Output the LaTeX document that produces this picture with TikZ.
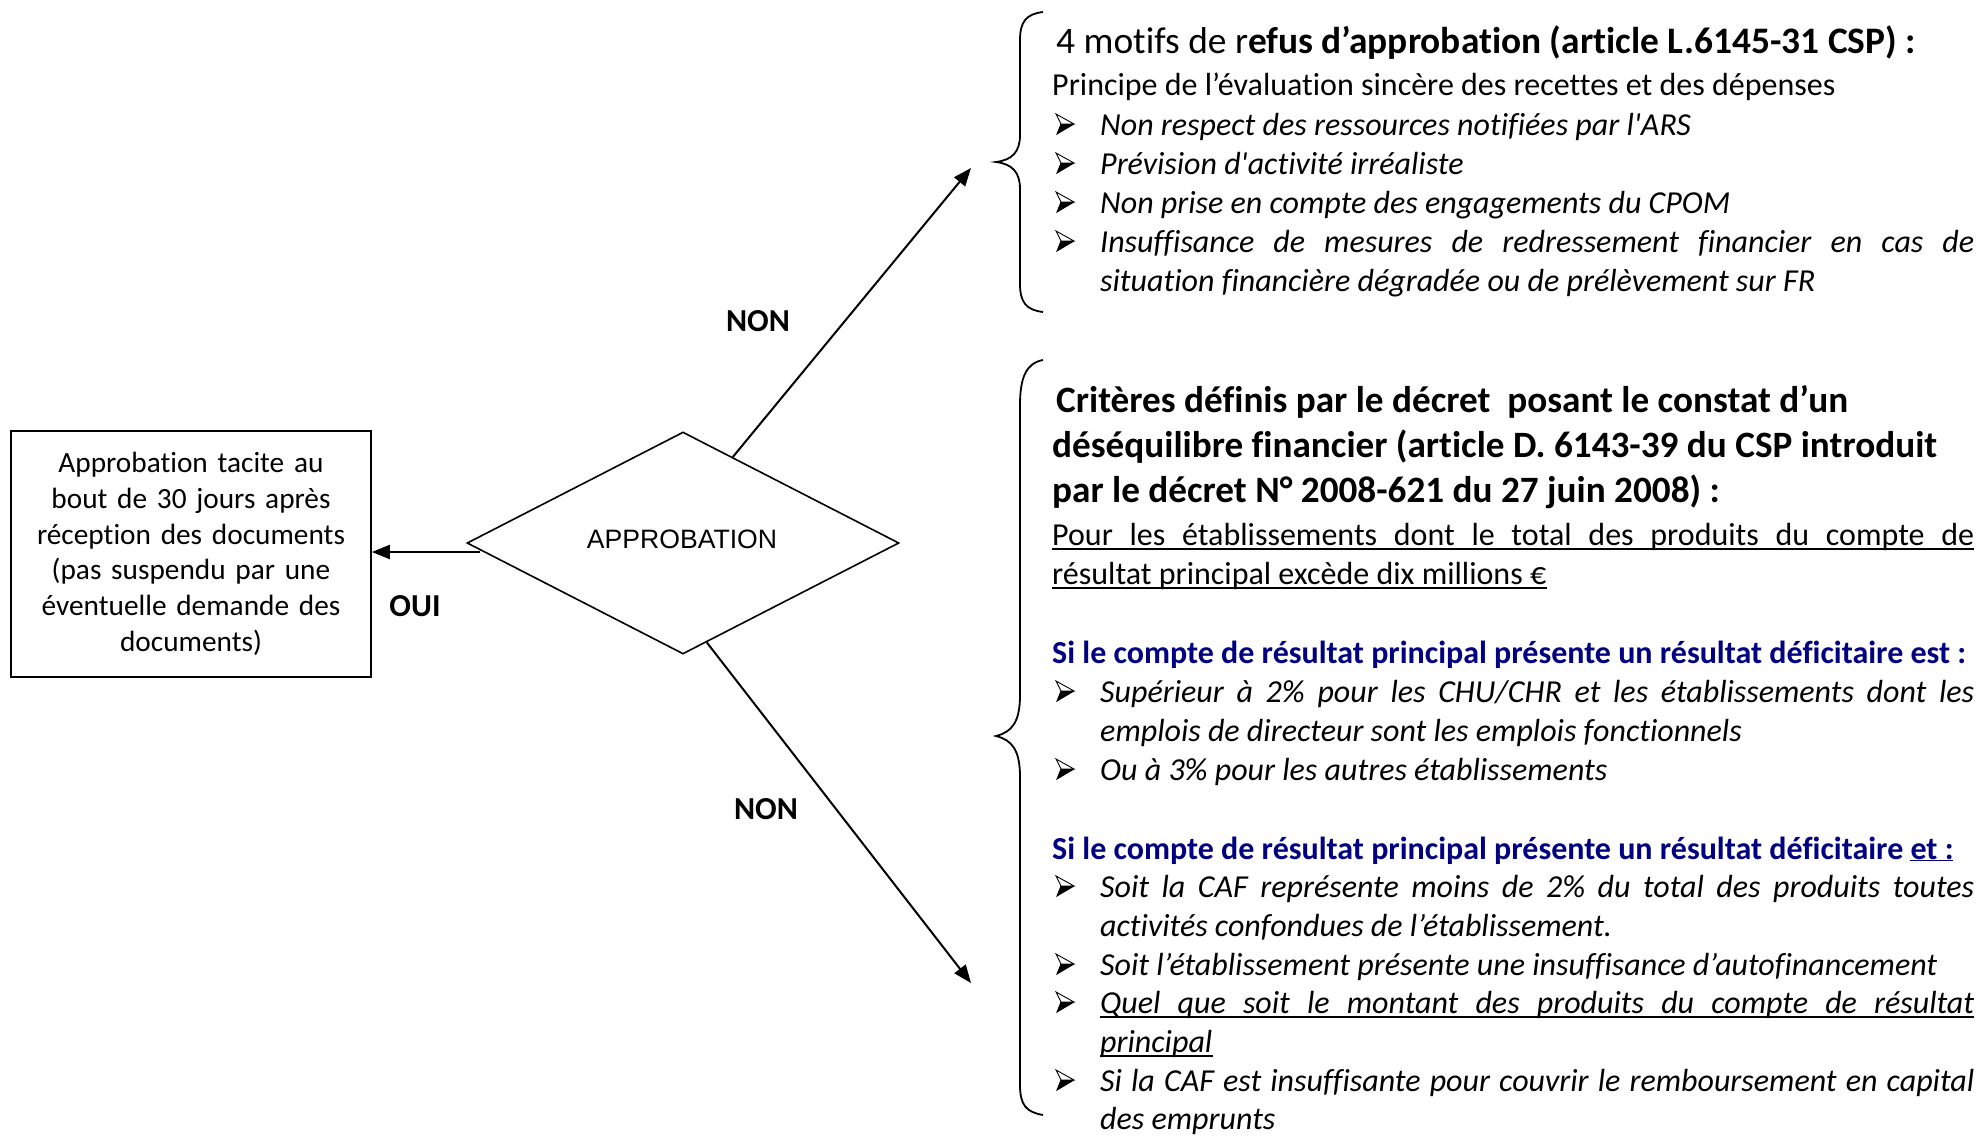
\documentclass[tikz,border=0pt]{standalone}
\usepackage{fontspec}
\setmainfont{Carlito}[Ligatures={TeX,NoCommon}]
\newfontfamily\arialf{Liberation Sans}
\usetikzlibrary{shapes.geometric,arrows.meta,calc}
\definecolor{navyt}{RGB}{0,0,128}
\newcommand{\strq}{\XeTeXglyph\XeTeXcharglyph"0027\relax}
\begin{document}
\begin{tikzpicture}[x=1pt,y=-1pt,
  txt/.style={inner sep=0pt, anchor=base west, font=\fontsize{32}{39}\selectfont},
  itx/.style={inner sep=0pt, anchor=base west, font=\fontsize{32}{39}\selectfont\itshape},
  blu/.style={inner sep=0pt, anchor=base west, text=navyt, font=\fontsize{32}{39}\selectfont\bfseries},
  hd/.style={inner sep=0pt, anchor=base west, font=\fontsize{37.2}{45}\selectfont\bfseries},
  lbl/.style={inner sep=0pt, font=\fontsize{32}{39}\selectfont\bfseries},
  ulin/.style={line width=1.8pt},
  arr/.style={line width=2pt, -{Triangle[length=18pt,width=14pt]}},
  brace/.style={line width=1.8pt},
  abul/.pic={
    \fill (5,-11) -- (18,-11) -- (1,-1) -- cycle;
    \draw[line width=0.9pt, line join=miter] (0,-21) -- (18,-11) -- (5,-11) -- cycle;
    \draw[line width=0.9pt] (5,-11) -- (1,-1) -- (18,-11);
  },
]
\useasboundingbox (0,0) rectangle (1980,1135);

% left box
\node[draw, line width=1.6pt, minimum width=360pt, minimum height=246pt, inner sep=0pt,
      text width=350pt, align=center, font=\fontsize{29.3}{35.7}\selectfont] (box) at (191,554)
  {Approbation tacite au\\ bout de 30 jours après\\ réception des documents\\ (pas suspendu par une\\ éventuelle demande des\\ documents)};

% diamond
\node[diamond, draw, line width=1.6pt, minimum width=432pt, minimum height=222pt, inner sep=0pt] (diam) at (683,543) {};
\node[inner sep=0pt, font=\arialf\fontsize{26.6}{32}\selectfont] (dlab) at (682,539) {APPROBATION};

% connectors
\coordinate (oA) at (480,552);
\draw[arr] (oA) -- (oA -| box.east);
\coordinate (upS) at ($(diam.north)!0.23!(diam.east)$);
\coordinate (upE) at (971,168);
\draw[arr] (upS) -- (upE);
\coordinate (dnS) at ($(diam.south)!0.11!(diam.east)$);
\coordinate (dnE) at (971,983);
\draw[arr] (dnS) -- (dnE);

\node[lbl] (oui) at (415,606) {OUI};
\node[lbl] (non1) at (758,321) {NON};
\node[lbl] (non2) at (766,809) {NON};

% braces
\draw[brace] (1043,12) .. controls (1026,14) and (1020,22) .. (1020,40)
  -- (1020,135) .. controls (1020,152) and (1012,160) .. (996,162)
  .. controls (1012,164) and (1020,172) .. (1020,189)
  -- (1020,284) .. controls (1020,302) and (1026,310) .. (1043,312);
\draw[brace] (1043,360) .. controls (1026,363) and (1020,378) .. (1020,405)
  -- (1020,695) .. controls (1020,722) and (1012,732) .. (996,736)
  .. controls (1012,740) and (1020,750) .. (1020,777)
  -- (1020,1085) .. controls (1020,1105) and (1026,1112) .. (1043,1115);

% upper block
\node[inner sep=0pt, anchor=base west, font=\fontsize{37.4}{45}\selectfont] (h1) at (1056,53)
  {4 motifs de r\textbf{efus d’approbation (article L.6145-31 CSP) :}};
\node[txt] (p1) at (1052,95) {Principe de l’évaluation sincère des recettes et des dépenses};
\pic at (1056,135) {abul};
\node[itx] (u1) at (1100,135) {Non respect des ressources notifiées par l\strq ARS};
\pic at (1056,174) {abul};
\node[itx] (u2) at (1100,174) {Prévision d\strq activité irréaliste};
\pic at (1056,213) {abul};
\node[itx] (u3) at (1100,213) {Non prise en compte des engagements du CPOM};
\pic at (1056,252) {abul};
\node[itx] (u4) at (1100,252) {\makebox[874pt][s]{Insuffisance de mesures de redressement financier en cas de}};
\node[itx] (u4b) at (1100,291) {situation financière dégradée ou de prélèvement sur FR};

% lower block
\node[hd] (h2a) at (1056,412) {Critères définis par le décret~ posant le constat d’un};
\node[hd] (h2b) at (1052,457) {déséquilibre financier (article D. 6143-39 du CSP introduit};
\node[hd] (h2c) at (1052,502) {par le décret N° 2008-621 du 27 juin 2008) :};
\node[txt] (pa) at (1052,545) {\makebox[922pt][s]{Pour les établissements dont le total des produits du compte de}};
\draw[ulin] ([yshift=-4pt]pa.base west) -- ([yshift=-4pt]pa.base east);
\node[txt] (pb) at (1052,584) {résultat principal excède dix millions €};
\draw[ulin] ([yshift=-4pt]pb.base west) -- ([yshift=-4pt]pb.base east);

\node[blu] (s1) at (1052,663) {Si le compte de résultat principal présente un résultat déficitaire est :};
\pic at (1056,702) {abul};
\node[itx] (l1) at (1100,702) {\makebox[874pt][s]{Supérieur à 2\% pour les CHU/CHR et les établissements dont les}};
\node[itx] (l1b) at (1100,741) {emplois de directeur sont les emplois fonctionnels};
\pic at (1056,780) {abul};
\node[itx] (l2) at (1100,780) {Ou à 3\% pour les autres établissements};

\node[blu] (s2) at (1052,859) {Si le compte de résultat principal présente un résultat déficitaire \underline{et :}};
\pic at (1056,897) {abul};
\node[itx] (l3) at (1100,897) {\makebox[874pt][s]{Soit la CAF représente moins de 2\% du total des produits toutes}};
\node[itx] (l3b) at (1100,936) {activités confondues de l’établissement.};
\pic at (1056,975) {abul};
\node[itx] (l4) at (1100,975) {Soit l’établissement présente une insuffisance d’autofinancement};
\pic at (1056,1013) {abul};
\node[itx] (l5) at (1100,1013) {\makebox[874pt][s]{Quel que soit le montant des produits du compte de résultat}};
\draw[ulin] ([yshift=-4pt]l5.base west) -- ([yshift=-4pt]l5.base east);
\node[itx] (l5b) at (1100,1052) {principal};
\draw[ulin] ([yshift=-4pt]l5b.base west) -- ([yshift=-4pt]l5b.base east);
\pic at (1056,1091) {abul};
\node[itx] (l6) at (1100,1091) {\makebox[874pt][s]{Si la CAF est insuffisante pour couvrir le remboursement en capital}};
\node[itx] (l6b) at (1100,1129) {des emprunts};
\end{tikzpicture}
\end{document}
